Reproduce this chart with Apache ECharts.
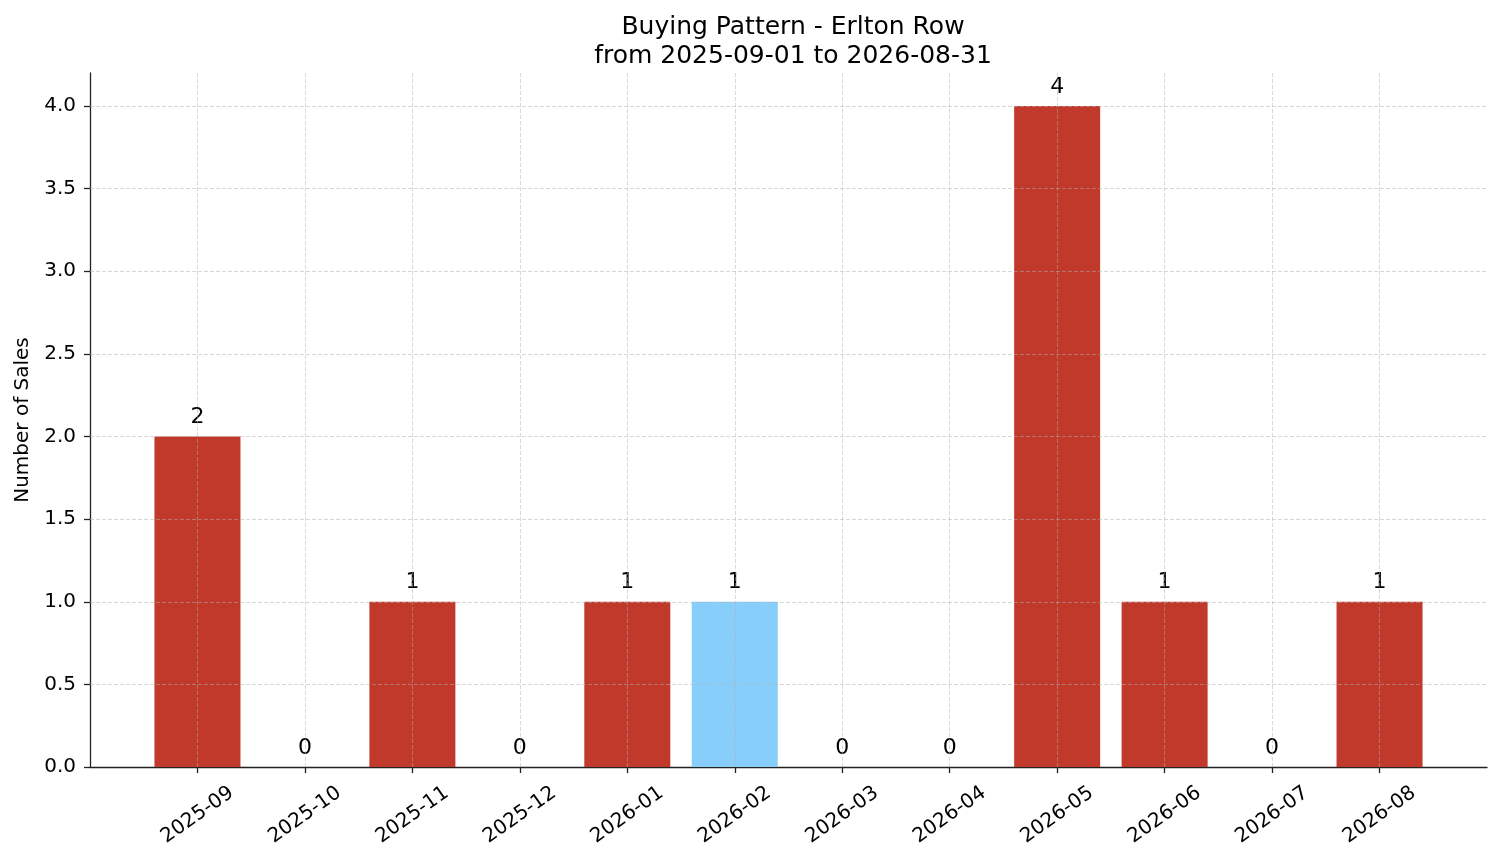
<!DOCTYPE html>
<html>
<head>
<meta charset="utf-8">
<title>Buying Pattern - Erlton Row</title>
<script src="https://cdn.jsdelivr.net/npm/echarts@6/dist/echarts.min.js"></script>
<style>
  html, body { margin: 0; padding: 0; background: #fff; }
  #chart { width: 1501px; height: 863px; }
</style>
</head>
<body>
<div id="chart"></div>
<script>
// months shown on the x axis
var months = ['2025-09', '2025-10', '2025-11', '2025-12', '2026-01', '2026-02',
              '2026-03', '2026-04', '2026-05', '2026-06', '2026-07', '2026-08'];
// number of sales per month
var sales = [2, 0, 1, 0, 1, 1, 0, 0, 4, 1, 0, 1];
// the month drawn in blue
var highlightMonth = '2026-02';
var yTicks = [0, 0.5, 1, 1.5, 2, 2.5, 3, 3.5, 4];

var FONT = 'DejaVu Sans';
var RED = '#c0392b';
var BLUE = '#87cefa';

var monthIdx = months.map(function (m, i) { return i; });

var barData = months.map(function (m, i) {
    return {
        value: [i, sales[i]],
        itemStyle: { color: m === highlightMonth ? BLUE : RED }
    };
});

// grid lines drawn on top of the bars, like the original
var gridLines = [];
monthIdx.forEach(function (i) { gridLines.push({ xAxis: i }); });
yTicks.forEach(function (v) { if (v > 0) gridLines.push({ yAxis: v }); });

var myChart = echarts.init(document.getElementById('chart'), null, { renderer: 'canvas' });

var option = {
    backgroundColor: '#fff',
    animation: false,
    textStyle: { fontFamily: FONT },
    title: {
        text: 'Buying Pattern - Erlton Row\nfrom 2025-09-01 to 2026-08-31',
        left: 788,
        textAlign: 'center',
        top: 8,
        textStyle: { fontFamily: FONT, fontSize: 25, fontWeight: 'normal', color: '#000', lineHeight: 29 }
    },
    grid: { left: 90, right: 14, top: 73, bottom: 96, containLabel: false },
    xAxis: {
        type: 'value',
        min: -1,
        max: 12,
        interval: 1,
        axisLine: { show: true, onZero: false, lineStyle: { color: '#222', width: 1.3 } },
        axisTick: { show: true, length: 6, lineStyle: { color: '#222', width: 1.3 }, customValues: monthIdx },
        axisLabel: {
            customValues: monthIdx,
            rotate: 35,
            align: 'center',
            verticalAlign: 'middle',
            fontSize: 20,
            color: '#000',
            margin: 48,
            fontFamily: FONT,
            formatter: function (v) { return months[v] || ''; }
        },
        splitLine: { show: false }
    },
    yAxis: {
        type: 'value',
        min: 0,
        max: 4.2,
        interval: 0.5,
        name: 'Number of Sales',
        nameLocation: 'middle',
        nameGap: 57,
        nameTextStyle: { fontFamily: FONT, fontSize: 20, color: '#000' },
        axisLine: { show: true, onZero: false, lineStyle: { color: '#222', width: 1.3 } },
        axisTick: { show: true, length: 6, lineStyle: { color: '#222', width: 1.3 }, customValues: yTicks },
        axisLabel: {
            customValues: yTicks,
            fontSize: 20,
            color: '#000',
            margin: 14,
            fontFamily: FONT,
            formatter: function (v) { return v.toFixed(1); }
        },
        splitLine: { show: false }
    },
    series: [
        {
            type: 'bar',
            data: barData,
            barWidth: 86,
            z: 2,
            label: {
                show: true,
                position: 'top',
                distance: 8,
                fontSize: 22,
                color: '#000',
                fontFamily: FONT,
                formatter: function (p) { return String(p.value[1]); }
            }
        },
        {
            type: 'line',
            data: [],
            silent: true,
            z: 5,
            markLine: {
                silent: true,
                symbol: ['none', 'none'],
                label: { show: false },
                lineStyle: { color: 'rgba(176,176,176,0.55)', width: 0.9, type: [4, 2] },
                data: gridLines
            }
        }
    ]
};

myChart.setOption(option, true);
</script>
</body>
</html>
